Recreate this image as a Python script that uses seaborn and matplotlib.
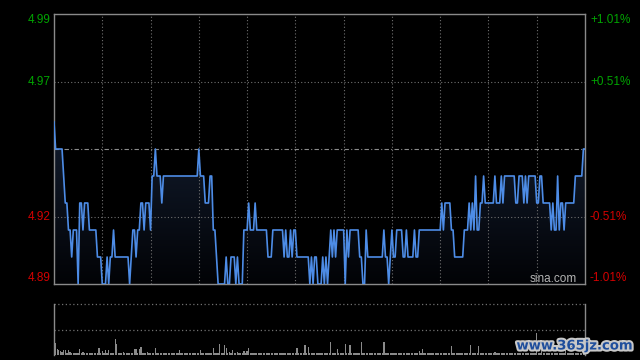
import numpy as np
import pandas as pd
import matplotlib
matplotlib.use("Agg")
import matplotlib.pyplot as plt
import seaborn as sns
from matplotlib import patheffects as pe
from matplotlib.colors import LinearSegmentedColormap

plt.rcParams['font.family'] = ['Liberation Sans', 'DejaVu Sans']

# ---------------- data ----------------
prev_close = 4.94
# intraday price as runs: price level and number of minutes it lasted
run_prices = [4.95, 4.94, 4.93, 4.92, 4.91, 4.90, 4.91, 4.89, 4.92, 4.91,
              4.92, 4.91, 4.90, 4.89, 4.90, 4.89, 4.90, 4.91, 4.90, 4.89,
              4.90, 4.91, 4.90, 4.91, 4.92, 4.91, 4.92, 4.91, 4.93, 4.94,
              4.93, 4.92, 4.93, 4.94, 4.93, 4.92, 4.93, 4.91, 4.90, 4.89,
              4.90, 4.89, 4.90, 4.89, 4.90, 4.89, 4.91, 4.92, 4.91, 4.92,
              4.91, 4.90, 4.91, 4.90, 4.91, 4.90, 4.91, 4.90, 4.91, 4.90,
              4.89, 4.90, 4.89, 4.90, 4.89, 4.90, 4.89, 4.90, 4.89, 4.90,
              4.91, 4.90, 4.91, 4.90, 4.91, 4.89, 4.91, 4.90, 4.91, 4.90,
              4.89, 4.91, 4.90, 4.91, 4.90, 4.89, 4.90, 4.91, 4.90, 4.91,
              4.90, 4.91, 4.90, 4.91, 4.90, 4.91, 4.92, 4.91, 4.92, 4.91,
              4.90, 4.91, 4.92, 4.91, 4.92, 4.91, 4.93, 4.91, 4.92, 4.93,
              4.92, 4.93, 4.92, 4.93, 4.92, 4.93, 4.92, 4.93, 4.92, 4.93,
              4.92, 4.93, 4.92, 4.93, 4.92, 4.91, 4.92, 4.91, 4.93, 4.91,
              4.92, 4.91, 4.92, 4.93, 4.94]
run_lengths = [1, 5, 1, 2, 2, 1, 3, 1, 2, 1,
               3, 5, 3, 3, 1, 1, 2, 1, 9, 1,
               1, 2, 1, 2, 2, 1, 3, 1, 2, 1,
               3, 1, 22, 1, 3, 3, 2, 2, 1, 5,
               1, 2, 3, 1, 1, 3, 3, 1, 3, 1,
               7, 3, 7, 1, 1, 2, 1, 1, 2, 8,
               1, 1, 1, 2, 3, 1, 1, 1, 1, 1,
               1, 1, 1, 1, 5, 1, 1, 1, 6, 2,
               2, 1, 10, 1, 2, 1, 1, 1, 2, 4,
               2, 1, 4, 1, 2, 14, 1, 1, 4, 2,
               6, 3, 1, 1, 1, 1, 1, 2, 2, 1,
               6, 1, 3, 1, 1, 7, 2, 3, 1, 1,
               1, 5, 2, 2, 5, 1, 1, 2, 1, 1,
               2, 1, 6, 5, 2]

# per-minute volume: typical small background level plus visible spikes
vol_base = 18
vol_spike_minutes = [1, 2, 3, 4, 5, 6, 7, 9, 10, 16, 18, 28, 30, 32, 34, 38, 39,
                     43, 50, 51, 53, 54, 58, 63, 78, 91, 99, 103, 106, 107, 109,
                     111, 114, 118, 120, 121, 151, 156, 158, 172, 176, 181, 184,
                     191, 205, 227, 229, 247, 259, 264, 274, 300, 303, 318]
vol_spike_values = [120, 60, 50, 40, 30, 50, 50, 50, 30, 60, 30, 70, 40, 50, 50,
                    160, 110, 30, 60, 60, 60, 80, 30, 70, 50, 50, 70, 110, 100,
                    70, 30, 50, 30, 40, 40, 70, 70, 100, 80, 130, 60, 110, 100,
                    130, 130, 40, 60, 90, 100, 90, 30, 220, 100, 60]

left_labels = ['4.99', '4.97', '4.92', '4.89']
right_labels = ['+1.01%', '+0.51%', '-0.51%', '-1.01%']

# ---------------- build series ----------------
price = np.repeat(run_prices, run_lengths)
minutes = np.arange(len(price))
df = pd.DataFrame({'minute': minutes, 'price': price})
vol = np.full(len(price), vol_base, dtype=float)
vol[vol_spike_minutes] = vol_spike_values
dfv = pd.DataFrame({'minute': minutes, 'volume': vol})

W, H = 640, 360
fig = plt.figure(figsize=(6.4, 3.6), dpi=100, facecolor='black')
ax = fig.add_axes([54 / W, (H - 284) / H, 531 / W, 270 / H])
axv = fig.add_axes([54 / W, (H - 355) / H, 531 / W, 51 / H])

XMAX = 330
YMIN, YMAX = 4.89, 4.99
grid_col = '#707070'
spine_col = '#8a8a8a'

for a in (ax, axv):
    a.set_facecolor('black')
    a.tick_params(left=False, bottom=False, labelleft=False, labelbottom=False)

# gradient fill under the line
poly = ax.fill_between(df['minute'], df['price'], YMIN, color='none', lw=0)
grad = np.linspace(1, 0, 256).reshape(-1, 1)
cmap = LinearSegmentedColormap.from_list('g', ['#020306', '#131d2f'])
im = ax.imshow(grad, extent=[0, XMAX, YMIN, df['price'].max()], aspect='auto',
               cmap=cmap, origin='upper', zorder=0.5, interpolation='bilinear')
im.set_clip_path(poly.get_paths()[0], transform=ax.transData)

# grid
for k in range(1, 11):
    ax.axvline(k * 30, color=grid_col, ls=(0, (1, 2)), lw=0.8, zorder=1)
for yv in (4.965, 4.915):
    ax.axhline(yv, color=grid_col, ls=(0, (1, 2)), lw=0.8, zorder=1)
ax.axhline(prev_close, color='#8c8c8c', ls=(0, (4, 2, 1, 2)), lw=0.8, zorder=1)

sns.lineplot(data=df, x='minute', y='price', ax=ax, color='#4d8ce6',
             linewidth=1.2, zorder=3)
ax.set_xlim(0, XMAX)
ax.set_ylim(YMIN, YMAX)
ax.set_xlabel('')
ax.set_ylabel('')
for s in ax.spines.values():
    s.set_color(spine_col)
    s.set_linewidth(1.0)

# volume panel
sns.barplot(data=dfv, x='minute', y='volume', ax=axv, native_scale=True,
            color='#8a8a8a', saturation=1, width=0.8, linewidth=0,
            errorbar=None)
axv.set_xlim(0, XMAX)
axv.set_ylim(0, 510)
axv.set_xlabel('')
axv.set_ylabel('')
axv.spines['top'].set_visible(False)
axv.spines['bottom'].set_visible(False)
for side in ('left', 'right'):
    axv.spines[side].set_color(spine_col)
    axv.spines[side].set_linewidth(1.0)
axv.axhline(510, color=grid_col, ls=(0, (1, 2)), lw=0.9, clip_on=False)
axv.axhline(255, color=grid_col, ls=(0, (1, 2)), lw=0.9)

# axis labels
green, red = '#00a400', '#d40000'
label_y = [20, 82, 217, 278]
label_c = [green, green, red, red]
for t, yy, c in zip(left_labels, label_y, label_c):
    fig.text(51 / W, 1 - yy / H, t, ha='right', va='center', color=c, fontsize=8.5)
for t, yy, c in zip(right_labels, label_y, label_c):
    fig.text(590 / W, 1 - yy / H, t, ha='left', va='center', color=c, fontsize=8.5)

fig.text(553 / W, 1 - 279 / H, 'sina.com', ha='center', va='center',
         color='#b4b4b4', fontsize=8.5)

fig.text(575 / W, 1 - 346 / H, 'www.365jz.com', ha='center', va='center',
         color='#1f4e9c', fontsize=9.5, fontweight='bold',
         family=['DejaVu Sans'],
         path_effects=[pe.withStroke(linewidth=3, foreground='#c8c8c8')])

fig.savefig('out.png', dpi=100, facecolor='black')
